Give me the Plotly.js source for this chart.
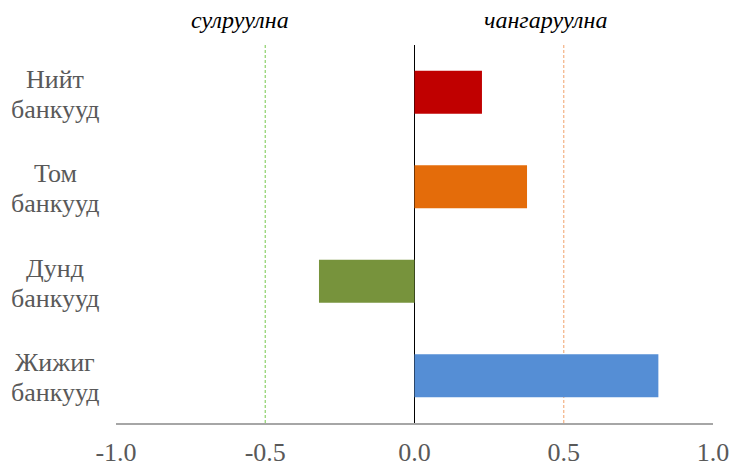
<!DOCTYPE html>
<html>
<head>
<meta charset="utf-8">
<script src="https://cdn.plot.ly/plotly-3.0.1.min.js"></script>
<style>html,body{margin:0;padding:0;background:#fff}#chart{width:733px;height:466px}</style>
</head>
<body>
<div id="chart"></div>
<script>
const categories = ["Нийт банкууд", "Том банкууд", "Дунд банкууд", "Жижиг банкууд"];
const values = [0.226, 0.377, -0.32, 0.817];
const barColors = ["#c00000", "#e46c0a", "#77933c", "#558ed5"];
const tickVals = [-1.0, -0.5, 0.0, 0.5, 1.0];
const tickText = ["-1.0", "-0.5", "0.0", "0.5", "1.0"];
const refLines = [-0.5, 0.5];
const refColors = ["#8cd06a", "#f4b183"];
const sideLabels = ["сулруулна", "чангаруулна"];
const sideLabelX = [-0.585, 0.44];

const FONT = "Liberation Serif";

const trace = {
  type: "bar",
  orientation: "h",
  x: values,
  y: categories,
  marker: {color: barColors},
  hoverinfo: "skip"
};

const shapes = refLines.map((v, i) => ({
  type: "line", xref: "x", yref: "paper",
  x0: v, x1: v, y0: 0, y1: 1,
  line: {color: refColors[i], width: 1.2, dash: "3px,2px"},
  layer: "below"
}));

const annotations = [];
categories.forEach(c => {
  const parts = c.split(" ");
  const shifts = [13, -17];
  parts.forEach((p, k) => {
    annotations.push({
      xref: "paper", yref: "y", x: -0.102, y: c, yshift: shifts[k],
      text: p, showarrow: false, xanchor: "center", yanchor: "middle",
      font: {family: FONT, size: 26, color: "#595959"}
    });
  });
});
sideLabels.forEach((t, i) => {
  annotations.push({
    xref: "x", yref: "paper", x: sideLabelX[i], y: 1.066,
    text: "<i>" + t + "</i>", showarrow: false, xanchor: "center", yanchor: "middle",
    font: {family: FONT, size: 24, color: "#000000"}
  });
});

const layout = {
  width: 733, height: 466,
  margin: {l: 116, r: 20, t: 45, b: 43},
  paper_bgcolor: "#ffffff", plot_bgcolor: "#ffffff",
  showlegend: false,
  bargap: 0.545,
  font: {family: FONT, color: "#595959"},
  xaxis: {
    range: [-1, 1],
    tickvals: tickVals, ticktext: tickText,
    showgrid: false,
    zeroline: true, zerolinecolor: "#000000", zerolinewidth: 1.5,
    showline: true, linecolor: "#a6a6a6", linewidth: 1.5,
    ticks: "", ticklabelstandoff: 5,
    tickfont: {family: FONT, size: 26, color: "#595959"},
    fixedrange: true
  },
  yaxis: {
    type: "category",
    autorange: "reversed",
    showgrid: false, zeroline: false, showline: false,
    showticklabels: false, ticks: "",
    fixedrange: true
  },
  shapes: shapes,
  annotations: annotations
};

Plotly.newPlot("chart", [trace], layout, {displayModeBar: false, staticPlot: true});
</script>
</body>
</html>
